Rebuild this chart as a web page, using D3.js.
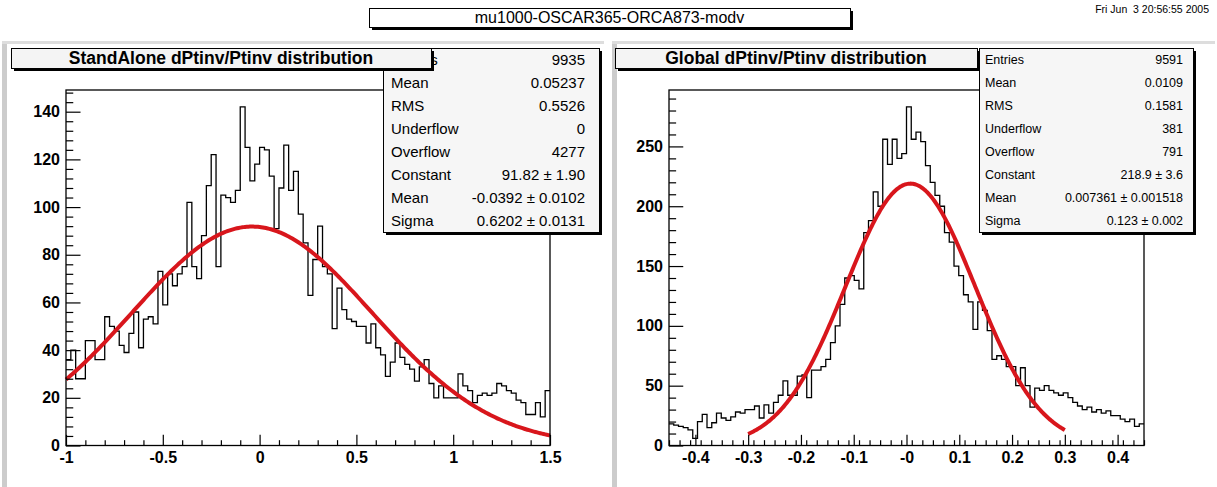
<!DOCTYPE html>
<html>
<head>
<meta charset="utf-8">
<title>mu1000-OSCAR365-ORCA873-modv</title>
<script src="https://d3js.org/d3.v7.min.js"></script>
<style>
  body { margin: 0; background: #fff; }
  svg text { font-family: "Liberation Sans", Arial, Helvetica, sans-serif; }
</style>
</head>
<body>
<svg id="canvas" width="1217" height="487"></svg>
<script>
// ---- data ----
var canvasTitle = "mu1000-OSCAR365-ORCA873-modv";
var dateText = "Fri Jun  3 20:56:55 2005";

// StandAlone: 100 bins from -1 to 1.5
var leftTitle = "StandAlone dPtinv/Ptinv distribution";
var leftRange = [-1, 1.5];
var leftCounts = [
  36, 40, 28, 28, 44, 44, 36, 36, 54, 50,
  48, 42, 39, 47, 56, 41, 53, 54, 51, 73,
  59, 72, 67, 72, 75, 102, 75, 70, 88, 109,
  122, 75, 105, 104, 102, 107, 142, 125, 111, 118,
  125, 124, 113, 91, 108, 126, 107, 115, 97, 85,
  63, 78, 92, 75, 72, 49, 66, 57, 53, 52,
  50, 50, 43, 51, 41, 38, 29, 35, 43, 37,
  34, 32, 27, 33, 36, 26, 20, 25, 20, 20,
  20, 30, 25, 23, 18, 21, 22, 21, 22, 26,
  25, 23, 22, 19, 18, 13, 13, 18, 12, 23
];
var leftXTicks = [-1, -0.5, 0, 0.5, 1, 1.5];
var leftXLabels = ["-1", "-0.5", "0", "0.5", "1", "1.5"];
var leftYTicks = [0, 20, 40, 60, 80, 100, 120, 140];
var leftFitPar = [91.82, -0.0392, 0.6202];   // constant, mean, sigma
var leftFitRange = [-1, 1.5];
var leftStats = ["9935", "0.05237", "0.5526", "0", "4277",
                 "91.82 \u00b1 1.90", "-0.0392 \u00b1 0.0102", "0.6202 \u00b1 0.0131"];

// Global: 100 bins from -0.45 to 0.45
var rightTitle = "Global dPtinv/Ptinv distribution";
var rightRange = [-0.45, 0.45];
var rightCounts = [
  18, 17, 16, 15, 13, 6, 20, 26, 15, 19,
  27, 23, 21, 24, 28, 27, 30, 30, 33, 23,
  34, 27, 36, 42, 54, 42, 42, 58, 59, 40,
  63, 63, 66, 72, 86, 100, 118, 140, 142, 138,
  131, 178, 188, 212, 200, 256, 235, 256, 240, 244,
  283, 256, 262, 254, 234, 220, 209, 200, 178, 170,
  150, 142, 126, 120, 97, 120, 113, 96, 72, 75,
  72, 66, 66, 50, 65, 50, 32, 48, 46, 50,
  46, 44, 42, 44, 40, 36, 33, 30, 32, 28,
  30, 27, 29, 25, 25, 22, 20, 22, 16, 18
];
var rightXTicks = [-0.4, -0.3, -0.2, -0.1, 0, 0.1, 0.2, 0.3, 0.4];
var rightXLabels = ["-0.4", "-0.3", "-0.2", "-0.1", "-0", "0.1", "0.2", "0.3", "0.4"];
var rightYTicks = [0, 50, 100, 150, 200, 250];
var rightFitPar = [218.9, 0.007361, 0.123];
var rightFitRange = [-0.3, 0.3];
var rightStats = ["9591", "0.0109", "0.1581", "381", "791",
                  "218.9 \u00b1 3.6", "0.007361 \u00b1 0.001518", "0.123 \u00b1 0.002"];

var statsLabels = ["Entries", "Mean", "RMS", "Underflow", "Overflow", "Constant", "Mean", "Sigma"];

// ---- drawing ----
var svg = d3.select("#canvas");

function gaus(p, x) {
  var z = (x - p[1]) / p[2];
  return p[0] * Math.exp(-0.5 * z * z);
}

function paveBox(g, b, fill) {
  g.append("rect").attr("x", b.x + 3).attr("y", b.y + 3)
    .attr("width", b.w).attr("height", b.h).attr("fill", "#000");
  g.append("rect").attr("x", b.x + 0.5).attr("y", b.y + 0.5)
    .attr("width", b.w).attr("height", b.h)
    .attr("fill", fill).attr("stroke", "#000").attr("stroke-width", 1);
}

function drawPad(o) {
  var g = svg.append("g");

  // pad bevel (left + top grey edges)
  g.append("rect").attr("x", o.pad[0]).attr("y", 42).attr("width", 5).attr("height", 445).attr("fill", "#cccccc");
  g.append("rect").attr("x", o.pad[0]).attr("y", 41).attr("width", o.pad[1] - o.pad[0]).attr("height", 3).attr("fill", "#dddddd");

  var n = o.counts.length;
  var ymax = 1.05 * d3.max(o.counts);
  var x = d3.scaleLinear().domain(o.range).range([o.frame[0], o.frame[1]]);
  var y = d3.scaleLinear().domain([0, ymax]).range([o.frame[3], o.frame[2]]);
  var bw = (o.range[1] - o.range[0]) / n;

  // histogram outline
  var pts = o.counts.map(function(c, i) { return [o.range[0] + i * bw, c]; });
  pts.push([o.range[1], o.counts[n - 1]]);
  var line = d3.line().x(function(d) { return x(d[0]); }).y(function(d) { return y(d[1]); })
    .curve(d3.curveStepAfter);
  g.append("path").attr("d", line(pts)).attr("fill", "none")
    .attr("stroke", "#000").attr("stroke-width", 1.3);

  // gaussian fit
  var fx = d3.range(301).map(function(i) {
    return o.fitRange[0] + i * (o.fitRange[1] - o.fitRange[0]) / 300;
  });
  var fitLine = d3.line().x(function(d) { return x(d); }).y(function(d) { return y(gaus(o.fitPar, d)); });
  g.append("path").attr("d", fitLine(fx)).attr("fill", "none")
    .attr("stroke", "#d8161c").attr("stroke-width", 4).attr("stroke-linejoin", "round");

  // frame
  g.append("rect").attr("x", o.frame[0]).attr("y", o.frame[2])
    .attr("width", o.frame[1] - o.frame[0]).attr("height", o.frame[3] - o.frame[2])
    .attr("fill", "none").attr("stroke", "#000").attr("stroke-width", 1.3);

  var fh = o.frame[3] - o.frame[2], fw = o.frame[1] - o.frame[0];

  // x axis
  var xMinor = d3.range(o.range[0], o.range[1] + 1e-9, o.xMinorStep)
    .map(function(v) { return Math.round(v * 1000) / 1000; })
    .filter(function(v) { return o.xTicks.indexOf(v) < 0; });
  g.append("g").attr("transform", "translate(0," + o.frame[3] + ")")
    .call(d3.axisBottom(x).tickValues(xMinor).tickSize(-0.015 * fh).tickFormat(""))
    .call(function(a) { a.select(".domain").remove(); });
  var ax = g.append("g").attr("transform", "translate(0," + o.frame[3] + ")")
    .call(d3.axisBottom(x).tickValues(o.xTicks).tickSize(-0.03 * fh).tickPadding(6)
      .tickFormat(function(d, i) { return o.xLabels[i]; }));
  ax.select(".domain").remove();

  // y axis
  var yMinor = d3.range(0, ymax, o.yMinorStep)
    .filter(function(v) { return o.yTicks.indexOf(v) < 0; });
  g.append("g").attr("transform", "translate(" + o.frame[0] + ",0)")
    .call(d3.axisLeft(y).tickValues(yMinor).tickSize(-0.015 * fw).tickFormat(""))
    .call(function(a) { a.select(".domain").remove(); });
  var ay = g.append("g").attr("transform", "translate(" + o.frame[0] + ",0)")
    .call(d3.axisLeft(y).tickValues(o.yTicks).tickSize(-0.03 * fw).tickPadding(6));
  ay.select(".domain").remove();

  g.selectAll(".tick line").attr("stroke", "#000").attr("stroke-width", 1.2);
  g.selectAll(".tick text").attr("fill", "#000")
    .attr("font-family", "'Liberation Sans', Arial, sans-serif")
    .attr("font-size", 16).attr("font-weight", "bold");

  // stats box
  var sb = o.statsBox;
  paveBox(g, sb, "#f6f6f6");
  var rowH = sb.h / statsLabels.length;
  statsLabels.forEach(function(lab, i) {
    var ty = sb.y + rowH * (i + 0.5);
    g.append("text").attr("x", sb.x + o.statsPad[0]).attr("y", ty).attr("dy", "0.35em")
      .attr("font-size", o.statsFont).text(lab);
    g.append("text").attr("x", sb.x + sb.w - o.statsPad[1]).attr("y", ty).attr("dy", "0.35em")
      .attr("text-anchor", "end").attr("font-size", o.statsFont).text(o.stats[i]);
  });

  // title box
  var tb = o.titleBox;
  paveBox(g, tb, "#f4f4f4");
  g.append("text").attr("x", tb.x + tb.w / 2).attr("y", tb.y + tb.h / 2).attr("dy", "0.36em")
    .attr("text-anchor", "middle").attr("font-size", 17.5).attr("font-weight", "bold")
    .text(o.title);
}

drawPad({
  pad: [2, 604], frame: [66, 550, 90, 445.5],
  range: leftRange, counts: leftCounts,
  xTicks: leftXTicks, xLabels: leftXLabels, xMinorStep: 0.1,
  yTicks: leftYTicks, yMinorStep: 4,
  fitPar: leftFitPar, fitRange: leftFitRange,
  title: leftTitle, titleBox: {x: 11, y: 48, w: 420, h: 20},
  stats: leftStats, statsBox: {x: 383, y: 48, w: 216, h: 184},
  statsFont: 15, statsPad: [8, 14]
});

drawPad({
  pad: [612, 1215], frame: [669, 1144, 90, 445.5],
  range: rightRange, counts: rightCounts,
  xTicks: rightXTicks, xLabels: rightXLabels, xMinorStep: 0.02,
  yTicks: rightYTicks, yMinorStep: 10,
  fitPar: rightFitPar, fitRange: rightFitRange,
  title: rightTitle, titleBox: {x: 615, y: 48, w: 362, h: 20},
  stats: rightStats, statsBox: {x: 979, y: 48, w: 214, h: 184},
  statsFont: 12.5, statsPad: [6, 10]
});

// canvas title + date
var tg = svg.append("g");
paveBox(tg, {x: 369, y: 8, w: 481, h: 19}, "#ffffff");
tg.append("text").attr("x", 369 + 481 / 2).attr("y", 17.5).attr("dy", "0.36em")
  .attr("text-anchor", "middle").attr("font-size", 16).text(canvasTitle);
tg.append("text").attr("x", 1209).attr("y", 9).attr("dy", "0.35em")
  .attr("text-anchor", "end").attr("font-size", 10.5).style("white-space", "pre")
  .text(dateText);
</script>
</body>
</html>
